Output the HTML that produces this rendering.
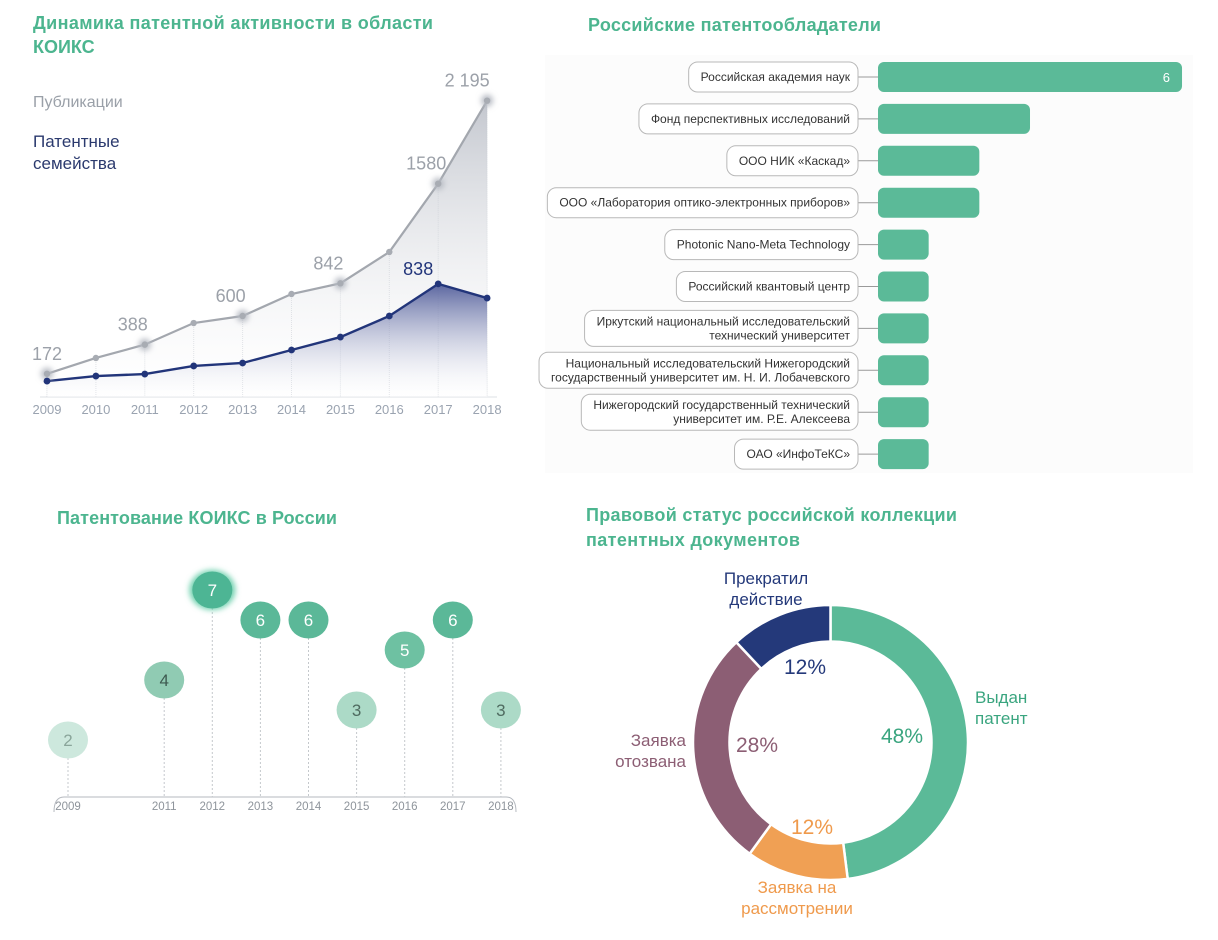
<!DOCTYPE html>
<html><head><meta charset="utf-8"><style>
html,body{margin:0;padding:0;background:#fff}
svg{display:block;font-family:"Liberation Sans","Noto Sans CJK SC",sans-serif}
</style></head><body>
<svg id="root" width="1218" height="940" viewBox="0 0 1218 940" xmlns="http://www.w3.org/2000/svg">
<defs>
<linearGradient id="gPub" x1="0" y1="0" x2="0" y2="1"><stop offset="0" stop-color="#b9bdc6" stop-opacity="0.85"/><stop offset="1" stop-color="#ffffff" stop-opacity="0.2"/></linearGradient>
<linearGradient id="gPat" x1="0" y1="0" x2="0" y2="1"><stop offset="0" stop-color="#4a5696" stop-opacity="0.9"/><stop offset="1" stop-color="#ffffff" stop-opacity="0.1"/></linearGradient>
<filter id="glow" x="-50%" y="-50%" width="200%" height="200%"><feGaussianBlur stdDeviation="3"/></filter>
</defs>
<rect x="545" y="55" width="648" height="418" fill="#fcfcfc"/>
<g fill="#4cb58f" font-weight="bold" font-size="18">
<text x="33" y="29" textLength="400">Динамика патентной активности в области</text>
<text x="33" y="53">КОИКС</text>
<text x="588" y="31" textLength="293">Российские патентообладатели</text>
<text x="57" y="524" textLength="280">Патентование КОИКС в России</text>
<text x="586" y="521" textLength="371">Правовой статус российской коллекции</text>
<text x="586" y="546" textLength="214">патентных документов</text>
</g>
<text x="33" y="107" font-size="16" fill="#9aa0a8">Публикации</text>
<text x="33" y="147" font-size="17" fill="#2b3a6e">Патентные</text>
<text x="33" y="169" font-size="17" fill="#2b3a6e">семейства</text>
<g id="line"></g><g id="bars"></g><g id="timeline"></g><g id="donut"></g>
</svg>
<script>
const NS="http://www.w3.org/2000/svg";
function mk(p,t,a){const e=document.createElementNS(NS,t);for(const k in a)e.setAttribute(k,a[k]);p.appendChild(e);return e;}
// ---- line chart data
const years=["2009","2010","2011","2012","2013","2014","2015","2016","2017","2018"];
const publications=[172,289,388,548,600,763,842,1074,1580,2195];
const patentFamilies=[118,155,170,230,252,348,444,600,838,733];
const pubLabels=["172","","388","","600","","842","","1580","2 195"];
const famLabels=["","","","","","","","","838",""];
// ---- bar chart data
const holders=[["Российская академия наук"],["Фонд перспективных исследований"],["ООО НИК «Каскад»"],["ООО «Лаборатория оптико-электронных приборов»"],["Photonic Nano-Meta Technology"],["Российский квантовый центр"],["Иркутский национальный исследовательский","технический университет"],["Национальный исследовательский Нижегородский","государственный университет им. Н. И. Лобачевского"],["Нижегородский государственный технический","университет им. Р.Е. Алексеева"],["ОАО «ИнфоТеКС»"]];
const holderCounts=[6,3,2,2,1,1,1,1,1,1];
// ---- timeline data
const tlYears=["2009","2010","2011","2012","2013","2014","2015","2016","2017","2018"];
const tlValues=[2,null,4,7,6,6,3,5,6,3];
// ---- donut data
const statusNames=["Выдан патент","Заявка на рассмотрении","Заявка отозвана","Прекратил действие"];
const statusShares=[48,12,28,12];

// line chart
(function(){
const g=document.getElementById('line');
const x=i=>47+i*48.9, y=v=>397-v*0.135;
years.forEach((yr,i)=>{
 const gl=mk(g,'line',{x1:x(i),x2:x(i),y1:y(publications[i]),y2:397,stroke:'#d8dbe0','stroke-width':1,'stroke-dasharray':'1 1'});
 
 const t=mk(g,'text',{x:x(i),y:414,'text-anchor':'middle','font-size':13,fill:'#9aa3b0'});t.textContent=yr;
 
});
const bl=mk(g,'line',{x1:40,x2:497,y1:397,y2:397,stroke:'#dde0e5'});

let pa='M'+x(0)+' 397';publications.forEach((v,i)=>pa+=' L'+x(i)+' '+y(v));pa+=' L'+x(9)+' 397Z';
const a1=mk(g,'path',{d:pa,fill:'url(#gPub)'});
let fa='M'+x(0)+' 397';patentFamilies.forEach((v,i)=>fa+=' L'+x(i)+' '+y(v));fa+=' L'+x(9)+' 397Z';
const a2=mk(g,'path',{d:fa,fill:'url(#gPat)'});
const l1=mk(g,'polyline',{points:publications.map((v,i)=>x(i)+','+y(v)).join(' '),fill:'none',stroke:'#a3a7ae','stroke-width':2.2});

const l2=mk(g,'polyline',{points:patentFamilies.map((v,i)=>x(i)+','+y(v)).join(' '),fill:'none',stroke:'#22357a','stroke-width':2.4});

publications.forEach((v,i)=>{
 if(pubLabels[i]){const h=mk(g,'circle',{cx:x(i),cy:y(v),r:6,fill:'#b8bcc4',filter:'url(#glow)'});}
 const c=mk(g,'circle',{cx:x(i),cy:y(v),r:3.2,fill:'#a8acb3'});
 if(pubLabels[i]){const t=mk(g,'text',{x:x(i)-(i==0?0:12),y:y(v)-14,'text-anchor':'middle','font-size':18,fill:'#9ca1a9'});t.textContent=pubLabels[i];
 if(i==9)t.setAttribute('x',x(i)-20);
 }
});
patentFamilies.forEach((v,i)=>{
 const c=mk(g,'circle',{cx:x(i),cy:y(v),r:3.4,fill:'#22357a'});
 if(famLabels[i]){const t=mk(g,'text',{x:x(i)-20,y:y(v)-9,'text-anchor':'middle','font-size':18,fill:'#22357a'});t.textContent=famLabels[i];
 }
});
})();

// bar chart
(function(){
const g=document.getElementById('bars');
const x0=878, sx=50.67, rowY=i=>77+i*41.9;
holders.forEach((lines,i)=>{
 const cy=rowY(i);
 const ln=mk(g,'line',{x1:858,x2:878,y1:cy,y2:cy,stroke:'#9a9a9a','stroke-width':1});
 
 const fs=12;
 const h=lines.length>1?36:30;
 const bx=mk(g,'rect',{x:700,y:cy-h/2,width:158,height:h,rx:9,fill:'#fff',stroke:'#b8b8b8','stroke-width':1});
 
 let mw=0;
 lines.forEach((s,k)=>{
  const t=mk(g,'text',{x:850,y:cy+4+(lines.length>1?(k-0.5)*14:0),'text-anchor':'end','font-size':fs,fill:'#333'});
  t.textContent=s;
  mw=Math.max(mw,t.getComputedTextLength());
 });
 const w=mw+20;
 bx.setAttribute('x',858-w);bx.setAttribute('width',w);
 const b=mk(g,'rect',{x:x0,y:cy-15,width:holderCounts[i]*sx,height:30,rx:6,fill:'#5bba98'});
 
});
const v=mk(g,'text',{x:x0+holderCounts[0]*sx-12,y:rowY(0)+5,'text-anchor':'end','font-size':13,fill:'#fff'});
v.textContent=String(holderCounts[0]);
})();

// timeline
(function(){
const g=document.getElementById('timeline');
const x=i=>68+i*48.1, y=v=>800-30*v;
const cols={2:'#cde8dd',3:'#acdac7',4:'#90cbb3',5:'#6ec1a2',6:'#5bb898',7:'#4db594'};
const tc={2:'#8aa59a',3:'#4f6b60',4:'#3d5a50',5:'#fff',6:'#fff',7:'#fff'};
const ax=mk(g,'path',{d:'M54 812 Q54 797 64 797 L506 797 Q516 797 516 812',fill:'none',stroke:'#b5b9bf','stroke-width':1});

tlYears.forEach((yr,i)=>{
 const v=tlValues[i];
 if(v!==null){
  const d=mk(g,'line',{x1:x(i),x2:x(i),y1:y(v)+18,y2:797,stroke:'#c4c8cc','stroke-width':1,'stroke-dasharray':'2 2'});
  
  if(v===7){const h=mk(g,'ellipse',{cx:x(i),cy:y(v),rx:23,ry:20,fill:'#6fd0ae',filter:'url(#glow)'});}
  const c=mk(g,'ellipse',{cx:x(i),cy:y(v),rx:20,ry:18.5,fill:cols[v]});
  
  const t=mk(g,'text',{x:x(i),y:y(v)+6,'text-anchor':'middle','font-size':17,fill:tc[v]});t.textContent=String(v);
  
  const l=mk(g,'text',{x:x(i),y:810,'text-anchor':'middle','font-size':11.5,fill:'#8e949b'});l.textContent=yr;
  
 }
});
})();

// donut
(function(){
const g=document.getElementById('donut');
const cx=830.5, cy=742.5, R=137.5, r=101;
const colors=['#5bba98','#f0a054','#8c5e74','#24397a'];
const total=statusShares.reduce((a,b)=>a+b,0);
let a0=0;
const pt=(rad,ang)=>[cx+rad*Math.sin(ang),cy-rad*Math.cos(ang)];
const inner=[[902,735,'#3aa57f'],[812,826,'#ef9a4c'],[757,744,'#8c5e74'],[805,666,'#24397a']];
statusShares.forEach((s,i)=>{
 const a1=a0+s/total*2*Math.PI;
 const lg=(a1-a0)>Math.PI?1:0;
 const [x1,y1]=pt(R,a0),[x2,y2]=pt(R,a1),[x3,y3]=pt(r,a1),[x4,y4]=pt(r,a0);
 const p=mk(g,'path',{d:`M${x1} ${y1} A${R} ${R} 0 ${lg} 1 ${x2} ${y2} L${x3} ${y3} A${r} ${r} 0 ${lg} 0 ${x4} ${y4}Z`,fill:colors[i],stroke:'#fff','stroke-width':2.5});
 
 const t=mk(g,'text',{x:inner[i][0],y:inner[i][1]+8,'text-anchor':'middle','font-size':21,fill:inner[i][2]});
 t.textContent=s+'%';
 a0=a1;
});
const outer=[
 [['Выдан','патент'],975,703,'start','#3aa57f'],
 [['Заявка на','рассмотрении'],797,893,'middle','#ef9a4c'],
 [['Заявка','отозвана'],686,746,'end','#8c5e74'],
 [['Прекратил','действие'],766,584,'middle','#24397a']];
outer.forEach((o,i)=>{
 o[0].forEach((s,k)=>{
  const t=mk(g,'text',{x:o[1],y:o[2]+k*21,'text-anchor':o[3],'font-size':17,fill:o[4]});
  t.textContent=s;
 });
});
})();
</script>
</body></html>
